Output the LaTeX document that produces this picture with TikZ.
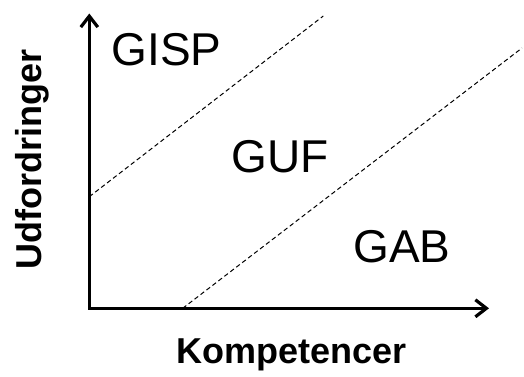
\documentclass[tikz,border=0pt]{standalone}
\usepackage{fontspec}
\setmainfont{Liberation Sans}
\usetikzlibrary{arrows.meta,positioning}

\begin{document}
\begin{tikzpicture}[
      x=1bp, y=1bp,
      axis/.style={line width=3.2bp, miter limit=4,
        {Straight Barb[length=11bp,width=17bp]}-{Straight Barb[length=11bp,width=17bp]}},
      border/.style={line width=1bp, dash pattern=on 4.5bp off 3bp},
      zone/.style={font=\fontsize{46bp}{50bp}\selectfont, anchor=base, inner sep=0pt},
      axlabel/.style={font=\fontsize{36bp}{40bp}\selectfont\bfseries, anchor=base, inner sep=0pt}
      ]
      \useasboundingbox (0,0) rectangle (524,376);

      \coordinate (o)    at (89.3,67.7);
      \coordinate (xend) at (489,67.7);
      \coordinate (yend) at (89.3,362.5);
      \coordinate (b1s)  at (89.3,179.3);
      \coordinate (b1e)  at (323.3,360);
      \coordinate (b2s)  at (182.7,67.7);
      \coordinate (b2e)  at (522,328);

      \node[zone] (gisp) at (166.7,311) {GISP};
      \node[zone] (guf)  at (280,204)   {GUF};
      \node[zone] (gab)  at (402,114)   {GAB};
      \node[axlabel] (komp) at (291.5,13) {Kompetencer};
      \node[axlabel, rotate=90] (udf) at (41.5,216.5) {Udfordringer};

  % Axes and borders
  \draw[border] (b1s) -- (b1e);
  \draw[border] (b2s) -- (b2e);
  \draw[axis] (yend) -- (o) -- (xend);

\end{tikzpicture}
\end{document}
